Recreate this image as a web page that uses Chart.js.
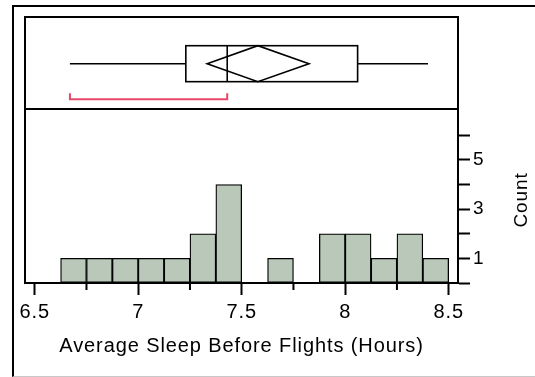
<!DOCTYPE html>
<html>
<head>
<meta charset="utf-8">
<script src="https://cdn.jsdelivr.net/npm/chart.js@4/dist/chart.umd.min.js"></script>
<style>
  html, body { margin: 0; padding: 0; background: #fff; overflow: hidden; }
  #frame { position: absolute; left: 12px; top: 5px; width: 560px; height: 369px;
           border-left: 2px solid #000; border-top: 2px solid #000; border-bottom: 1px solid #c8c8c8; }
  #wrap { position: absolute; left: 0; top: 0; width: 535px; height: 377px; }
</style>
</head>
<body>
<div id="frame"></div>
<div id="wrap"><canvas id="c" width="535" height="377"></canvas></div>
<script>
// Histogram bins (lower edges, hours) and counts
const binLower = [6.625, 6.75, 6.875, 7.0, 7.125, 7.25, 7.375, 7.5, 7.625, 7.75, 7.875, 8.0, 8.125, 8.25, 8.375];
const binWidth = 0.125;
const counts = [1, 1, 1, 1, 1, 2, 4, 0, 1, 0, 2, 2, 1, 2, 1];

// Axis ticks
const xTickValues = [6.5, 6.75, 7, 7.25, 7.5, 7.75, 8, 8.25, 8.5];
const xTickLabels = ['6.5', '', '7', '', '7.5', '', '8', '', '8.5'];
const yTickValues = [0, 1, 2, 3, 4, 5, 6];
const yTickLabels = ['', '1', '', '3', '', '5', ''];

// Outlier box plot summary
const boxStats = [6.67, 7.23, 7.43, 8.06, 8.40];   // min, q1, median, q3, max
const meanDiamond = [7.333, 7.578, 7.825];         // lower CI, mean, upper CI
const shortestHalf = [6.67, 7.43];

const xTitle = 'Average Sleep Before Flights (Hours)';
const yTitle = 'Count';

const FONT = "'Liberation Sans', Arial, sans-serif";
const LETTER_SPACING = '0.9px';
const BAR_FILL = '#b9c8b9';
const BRACKET_RED = '#e8476a';

function seg(ctx, x1, y1, x2, y2) {
  ctx.beginPath(); ctx.moveTo(x1, y1); ctx.lineTo(x2, y2); ctx.stroke();
}

const panelPlugin = {
  id: 'panels',
  beforeUpdate(chart) { chart.ctx.letterSpacing = LETTER_SPACING; },
  beforeDraw(chart) { chart.ctx.letterSpacing = LETTER_SPACING; },
  afterDraw(chart) {
    const { ctx, chartArea: a, scales: { x, y, yBox } } = chart;
    ctx.save();
    ctx.strokeStyle = '#000';
    ctx.lineWidth = 2;
    // plot frame and the divider between box plot and histogram
    ctx.strokeRect(a.left, a.top, a.right - a.left, a.bottom - a.top);
    seg(ctx, a.left, y.top, a.right, y.top);

    // minor x ticks
    xTickValues.forEach((v, i) => {
      if (!xTickLabels[i]) {
        const px = x.getPixelForValue(v);
        seg(ctx, px, a.bottom, px, a.bottom + 7);
      }
    });

    // box plot
    ctx.lineWidth = 1.6;
    const [mn, q1, med, q3, mx] = boxStats.map(v => x.getPixelForValue(v));
    const yTop = yBox.getPixelForValue(0.688);
    const yBot = yBox.getPixelForValue(0.297);
    const yMid = (yTop + yBot) / 2;
    seg(ctx, mn, yMid, q1, yMid);
    seg(ctx, q3, yMid, mx, yMid);
    ctx.strokeRect(q1, yTop, q3 - q1, yBot - yTop);
    seg(ctx, med, yTop, med, yBot);

    // mean diamond
    const [cl, m, ch] = meanDiamond.map(v => x.getPixelForValue(v));
    ctx.beginPath();
    ctx.moveTo(cl, yMid); ctx.lineTo(m, yTop); ctx.lineTo(ch, yMid); ctx.lineTo(m, yBot); ctx.closePath();
    ctx.stroke();

    // shortest half bracket
    const sh0 = x.getPixelForValue(shortestHalf[0]);
    const sh1 = x.getPixelForValue(shortestHalf[1]);
    const by = yBox.getPixelForValue(0.105);
    const bt = yBox.getPixelForValue(0.171);
    ctx.strokeStyle = BRACKET_RED;
    ctx.lineWidth = 2;
    ctx.beginPath();
    ctx.moveTo(sh0, bt); ctx.lineTo(sh0, by); ctx.lineTo(sh1, by); ctx.lineTo(sh1, bt);
    ctx.stroke();

    // vertical axis title, reading bottom to top
    ctx.fillStyle = '#000';
    ctx.font = '19px ' + FONT;
    ctx.textAlign = 'center';
    ctx.textBaseline = 'middle';
    ctx.translate(y.right - 13.5, (y.top + y.bottom) / 2 + 4);
    ctx.rotate(-Math.PI / 2);
    ctx.fillText(yTitle, 0, 0);
    ctx.restore();
  }
};

new Chart(document.getElementById('c'), {
  type: 'bar',
  data: {
    datasets: [{
      data: binLower.map((lo, i) => ({ x: lo + binWidth / 2, y: counts[i] })),
      backgroundColor: BAR_FILL,
      borderColor: '#000',
      borderWidth: c => (c.raw && c.raw.y ? 1.3 : 0),
      borderSkipped: false,
      barPercentage: 1,
      categoryPercentage: 1,
      xAxisID: 'x',
      yAxisID: 'y'
    }]
  },
  options: {
    responsive: false,
    animation: false,
    devicePixelRatio: 1,
    layout: { padding: { left: 25, top: 17, right: 0, bottom: 0 } },
    plugins: { legend: { display: false }, tooltip: { enabled: false } },
    events: [],
    scales: {
      x: {
        type: 'linear',
        min: 6.453,
        max: 8.545,
        offset: false,
        afterBuildTicks: s => { s.ticks = xTickValues.map(v => ({ value: v })); },
        afterFit: s => { s.height = 94; },
        ticks: {
          callback: (v, i) => xTickLabels[i],
          color: '#000',
          font: { family: FONT, size: 20 },
          padding: 5,
          maxRotation: 0,
          autoSkip: false
        },
        grid: {
          drawOnChartArea: false,
          offset: false,
          tickLength: 12,
          tickWidth: 2,
          tickColor: c => (xTickLabels[c.index] ? '#000' : 'rgba(0,0,0,0)')
        },
        border: { display: true, color: '#000', width: 2 },
        title: {
          display: true,
          text: xTitle,
          color: '#000',
          font: { family: FONT, size: 20 },
          padding: { top: 0, bottom: 19 }
        }
      },
      yBox: {
        type: 'linear',
        position: 'right',
        stack: 'v',
        stackWeight: 92,
        min: 0,
        max: 1,
        ticks: { display: false },
        grid: { display: false, drawTicks: false },
        border: { display: false },
        afterFit: s => { s.width = 0; }
      },
      y: {
        type: 'linear',
        position: 'right',
        stack: 'v',
        stackWeight: 174,
        min: 0,
        max: 7.07,
        afterBuildTicks: s => { s.ticks = yTickValues.map(v => ({ value: v })); },
        afterFit: s => { s.width = 77; },
        ticks: {
          callback: (v, i) => yTickLabels[i],
          color: '#000',
          font: { family: FONT, size: 19 },
          padding: 3,
          autoSkip: false
        },
        grid: {
          drawOnChartArea: false,
          tickLength: 12,
          tickWidth: 2,
          tickColor: '#000'
        },
        border: { display: true, color: '#000', width: 2 }
      }
    }
  },
  plugins: [panelPlugin]
});
</script>
</body>
</html>
